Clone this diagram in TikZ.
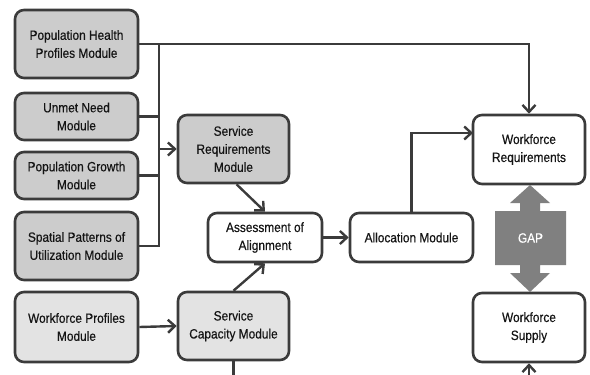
\documentclass[tikz,border=0pt]{standalone}
\usepackage{fontspec}
\setmainfont{Liberation Sans}[FakeStretch=0.88, FakeBold=0.4]
\usetikzlibrary{arrows.meta}

\newlength{\du}
\setlength{\du}{1pt}

\definecolor{linegray}{rgb}{0.230000, 0.230000, 0.230000}
\definecolor{darkfill}{rgb}{0.800000, 0.800000, 0.800000}
\definecolor{lightfill}{rgb}{0.890000, 0.890000, 0.890000}
\definecolor{gapgray}{rgb}{0.500000, 0.500000, 0.500000}

\tikzset{
  module/.style={draw=linegray, line width=2.6\du, rounded corners=9\du,
    align=center, text=black!92, font=\fontsize{13.5}{18}\selectfont,
    inner sep=0pt},
  darkmod/.style={module, fill=darkfill},
  lightmod/.style={module, fill=lightfill},
  whitemod/.style={module, fill=white},
  conn/.style={draw=linegray, line width=2.4\du},
  arr/.style={conn, -{Straight Barb[length=7pt,width=13pt]}}
}

\begin{document}
\begin{tikzpicture}
\pgftransformxscale{1.000000}
\pgftransformyscale{-1.000000}
\useasboundingbox (0\du,0\du) rectangle (590\du,375\du);
% left column
\node[darkmod, minimum width=123\du, minimum height=68\du] (pophealth) at (76.5\du,44\du) {Population Health\\Profiles Module};
\node[darkmod, minimum width=123\du, minimum height=47\du] (unmet) at (76.5\du,116.5\du) {Unmet Need\\Module};
\node[darkmod, minimum width=123\du, minimum height=47\du] (popgrowth) at (76.5\du,175.5\du) {Population Growth\\Module};
\node[darkmod, minimum width=123\du, minimum height=68\du] (spatial) at (76.5\du,246\du) {Spatial Patterns of\\Utilization Module};
\node[lightmod, minimum width=123\du, minimum height=70\du] (wfprofiles) at (76.5\du,327\du) {Workforce Profiles\\Module};
% middle
\node[darkmod, minimum width=111\du, minimum height=68\du] (servreq) at (233.5\du,149\du) {Service\\Requirements\\Module};
\node[whitemod, minimum width=114\du, minimum height=49\du] (assess) at (265\du,237.5\du) {Assessment of\\Alignment};
\node[lightmod, minimum width=111\du, minimum height=68\du] (servcap) at (233.5\du,326\du) {Service\\Capacity Module};
\node[whitemod, minimum width=123\du, minimum height=49\du] (alloc) at (411.5\du,237.5\du) {Allocation Module};
% right
\node[whitemod, minimum width=112\du, minimum height=69\du] (wfreq) at (529\du,149.5\du) {Workforce\\Requirements};
\node[whitemod, minimum width=112\du, minimum height=69\du] (wfsupply) at (529\du,327.5\du) {Workforce\\Supply};
% gap arrow
\fill[gapgray] (530\du,185\du)--(550\du,203\du)--(540\du,203\du)--(540\du,211\du)--(566\du,211\du)--(566\du,265\du)--(540\du,265\du)--(540\du,273\du)--(550\du,273\du)--(530\du,292\du)--(510\du,273\du)--(520\du,273\du)--(520\du,265\du)--(495\du,265\du)--(495\du,211\du)--(520\du,211\du)--(520\du,203\du)--(510\du,203\du)--cycle;
\node[text=white, font=\fontsize{13.5}{16}\selectfont] (gap) at (530.5\du,238\du) {GAP};
% connectors
\coordinate (busTop) at (159\du,44\du);
\coordinate (wfreqIn) at (473\du,133\du);
\coordinate (capOut) at (233.5\du,375\du);
\coordinate (supplyIn) at (529\du,375\du);
\draw[arr] (pophealth.east) -| (wfreq.north);
\draw[conn] (spatial.east) -| (busTop);
\draw[conn] (unmet.east) -- (unmet.east -| busTop);
\draw[conn] (popgrowth.east) -- (popgrowth.east -| busTop);
\draw[arr] (busTop |- servreq.west) -- (servreq.west);
\draw[arr] ([xshift=3\du]servreq.south) -- (assess.north);
\draw[arr] (servcap.north) -- (assess.south);
\draw[arr] (wfprofiles.east) -- (servcap.west);
\draw[arr] (assess.east) -- (alloc.west);
\draw[arr] (alloc.north) |- (wfreqIn);
\draw[conn] (servcap.south) -- (capOut);
\draw[arr] (supplyIn) -- (wfsupply.south);
\end{tikzpicture}
\end{document}
